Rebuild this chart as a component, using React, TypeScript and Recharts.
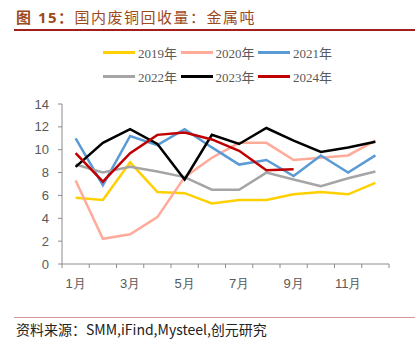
import React from 'react';
import { LineChart, Line, XAxis, YAxis } from 'recharts';

const months = ['1月', '2月', '3月', '4月', '5月', '6月', '7月', '8月', '9月', '10月', '11月', '12月'];
const y2019 = [5.8, 5.6, 8.9, 6.3, 6.2, 5.3, 5.6, 5.6, 6.1, 6.3, 6.1, 7.1];
const y2020 = [7.3, 2.2, 2.6, 4.1, 7.6, 9.3, 10.6, 10.6, 9.1, 9.3, 9.5, 10.8];
const y2021 = [11.0, 6.9, 11.2, 10.4, 11.8, 10.2, 8.7, 9.1, 7.7, 9.5, 8.0, 9.5];
const y2022 = [8.7, 8.0, 8.5, 8.1, 7.6, 6.5, 6.5, 8.0, 7.4, 6.8, 7.5, 8.1];
const y2023 = [8.5, 10.6, 11.8, 10.5, 7.4, 11.3, 10.5, 11.9, 10.8, 9.8, 10.2, 10.7];
const y2024 = [9.7, 7.2, 9.7, 11.3, 11.5, 10.9, 9.9, 8.2, 8.3];
const yTicks = [0, 2, 4, 6, 8, 10, 12, 14];

const series = [
  { key: 's2019', name: '2019年', color: '#FFD000', values: y2019 },
  { key: 's2020', name: '2020年', color: '#FFAB9A', values: y2020 },
  { key: 's2021', name: '2021年', color: '#5B9BD5', values: y2021 },
  { key: 's2022', name: '2022年', color: '#A5A5A5', values: y2022 },
  { key: 's2023', name: '2023年', color: '#000000', values: y2023 },
  { key: 's2024', name: '2024年', color: '#C00000', values: y2024 },
];

const data = months.map((m, i) => {
  const row: Record<string, string | number | undefined> = { month: m };
  series.forEach((s) => {
    row[s.key] = s.values[i];
  });
  return row;
});

const axisColor = '#8C8C8C';
const labelColor = '#595959';
const BAND = 327 / 12;

function MonthTick(props: any) {
  const { x, y, payload, index } = props;
  const i = payload?.index ?? index;
  return (
    <g>
      <line x1={x - BAND / 2} y1={y} x2={x - BAND / 2} y2={y + 4} stroke={axisColor} />
      {i === months.length - 1 && (
        <line x1={x + BAND / 2} y1={y} x2={x + BAND / 2} y2={y + 4} stroke={axisColor} />
      )}
      {i % 2 === 0 && (
        <text x={x} y={y + 24} textAnchor="middle" fill={labelColor} fontSize={13} fontFamily="Liberation Sans, Arial">
          {payload.value}
        </text>
      )}
    </g>
  );
}

export default function App() {
  return (
    <div style={{ position: 'absolute', left: 0, top: 0, width: 419, height: 350, background: '#fff', fontFamily: '"Noto Sans CJK SC", sans-serif' }}>
      <div style={{ position: 'absolute', left: 16, top: 6, fontSize: 15, color: '#9C4A1C', letterSpacing: 1.5, whiteSpace: 'nowrap' }}>
        <span style={{ fontWeight: 'bold', fontFamily: '"Open Sans", "Noto Sans CJK SC"' }}>图 15：</span>国内废铜回收量：金属吨
      </div>
      <div style={{ position: 'absolute', left: 14, top: 29, width: 401, height: 2, background: '#A31F1F' }} />

      {series.map((s, i) => (
        <div
          key={s.key}
          style={{ position: 'absolute', left: 103 + (i % 3) * 77.5, top: 43 + Math.floor(i / 3) * 24, height: 18, display: 'flex', alignItems: 'center', whiteSpace: 'nowrap' }}
        >
          <div style={{ width: 32, height: 3, background: s.color }} />
          <span style={{ marginLeft: 3, fontSize: 13, color: labelColor, fontFamily: '"Liberation Serif", "Noto Sans CJK SC"' }}>{s.name}</span>
        </div>
      ))}

      <div style={{ position: 'absolute', left: 0, top: 0 }}>
        <LineChart width={419} height={300} data={data} margin={{ top: 104, right: 30, left: 12, bottom: 6 }}>
          <XAxis
            dataKey="month"
            interval={0}
            height={30}
            padding={{ left: BAND / 2, right: BAND / 2 }}
            tickSize={0}
            tickMargin={0}
            tickLine={false}
            stroke={axisColor}
            tick={<MonthTick />}
          />
          <YAxis
            domain={[0, 14]}
            ticks={yTicks}
            interval={0}
            width={50}
            tickSize={4}
            tickMargin={9}
            stroke={axisColor}
            tick={{ fill: labelColor, fontSize: 13, fontFamily: 'Liberation Sans, Arial' }}
          />
          {series.map((s) => (
            <Line
              key={s.key}
              dataKey={s.key}
              name={s.name}
              type="linear"
              stroke={s.color}
              strokeWidth={2.5}
              dot={false}
              isAnimationActive={false}
            />
          ))}
        </LineChart>
      </div>

      <div style={{ position: 'absolute', left: 14, top: 317, width: 401, height: 1, background: '#D39A9A' }} />
      <div style={{ position: 'absolute', left: 16, top: 319, fontSize: 14, color: '#222', whiteSpace: 'nowrap' }}>
        资料来源：SMM,iFind,Mysteel,创元研究
      </div>
    </div>
  );
}
